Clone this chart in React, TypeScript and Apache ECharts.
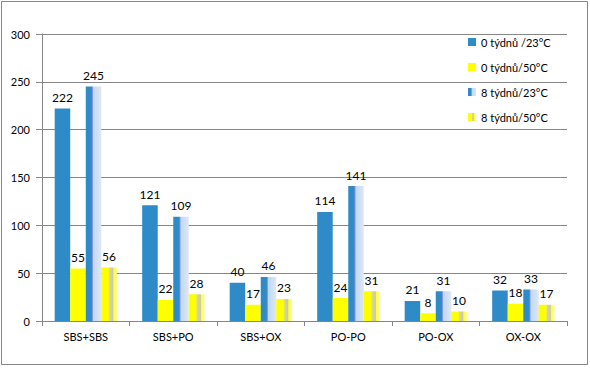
import React, { useEffect, useRef } from "react";
import * as echarts from "echarts";

const categories = ["SBS+SBS", "SBS+PO", "SBS+OX", "PO-PO", "PO-OX", "OX-OX"];
const seriesNames = ["0 týdnů /23°C", "0 týdnů/50°C", "8 týdnů/23°C", "8 týdnů/50°C"];
const w0t23 = [222, 121, 40, 114, 21, 32];
const w0t50 = [55, 22, 17, 24, 8, 18];
const w8t23 = [245, 109, 46, 141, 31, 33];
const w8t50 = [56, 28, 23, 31, 10, 17];
const yTicks = { min: 0, max: 300, interval: 50 };

const FONT = "Lato";

export default function App() {
  const ref = useRef<HTMLDivElement>(null);
  useEffect(() => {
    if (!ref.current) return;
    const chart = echarts.init(ref.current, undefined, { renderer: "svg" });
    const blueGrad = new echarts.graphic.LinearGradient(0, 0, 1, 0, [
      { offset: 0, color: "#2E8BC8" },
      { offset: 0.36, color: "#2E8BC8" },
      { offset: 0.42, color: "#7b8ad8" },
      { offset: 0.5, color: "#c3d8f0" },
      { offset: 1, color: "#dde8f6" },
    ]);
    const yellowGrad = new echarts.graphic.LinearGradient(0, 0, 1, 0, [
      { offset: 0, color: "#FFFF00" },
      { offset: 0.45, color: "#FFFF00" },
      { offset: 0.55, color: "#d8d890" },
      { offset: 0.75, color: "#c8c8b0" },
      { offset: 0.8, color: "#ffff40" },
      { offset: 1, color: "#ffff80" },
    ]);
    const label = {
      show: true,
      position: "top" as const,
      color: "#000",
      fontFamily: FONT,
      fontSize: 12,
      distance: 5,
    };
    const mk = (name: string, data: number[], color: any) => ({
      name,
      type: "bar" as const,
      data,
      barGap: "0%",
      barCategoryGap: "29%",
      itemStyle: { color },
      label,
    });
    chart.setOption({
      animation: false,
      textStyle: { fontFamily: FONT },
      grid: { left: 42, right: 23, top: 34, bottom: 47 },
      graphic: [
        {
          type: "rect",
          shape: { x: 1.5, y: 1.5, width: 586, height: 363 },
          style: { fill: "none", stroke: "#868686", lineWidth: 1 },
          silent: true,
        },
      ],
      legend: {
        orient: "vertical",
        left: 463,
        top: 31,
        itemWidth: 8,
        itemHeight: 8,
        itemGap: 13,
        textStyle: { fontFamily: FONT, fontSize: 11, color: "#000", lineHeight: 12 },
        icon: "rect",
        data: seriesNames,
      },
      xAxis: {
        type: "category",
        data: categories,
        axisLine: { lineStyle: { color: "#868686" } },
        axisTick: { show: true, length: 5, lineStyle: { color: "#868686" } },
        axisLabel: { color: "#000", fontFamily: FONT, fontSize: 11, margin: 10 },
      },
      yAxis: {
        type: "value",
        min: yTicks.min,
        max: yTicks.max,
        interval: yTicks.interval,
        axisLine: { show: true, lineStyle: { color: "#868686" } },
        axisTick: { show: true, length: 6, lineStyle: { color: "#868686" } },
        axisLabel: { color: "#000", fontFamily: FONT, fontSize: 11, margin: 12 },
        splitLine: { lineStyle: { color: "#868686" } },
      },
      series: [
        mk(seriesNames[0], w0t23, "#2E8BC8"),
        mk(seriesNames[1], w0t50, "#FFFF00"),
        mk(seriesNames[2], w8t23, blueGrad),
        mk(seriesNames[3], w8t50, yellowGrad),
      ],
    });
    return () => chart.dispose();
  }, []);
  return (
    <div
      ref={ref}
      style={{ position: "absolute", left: 0, top: 0, width: 590, height: 368, background: "#fff" }}
    />
  );
}
